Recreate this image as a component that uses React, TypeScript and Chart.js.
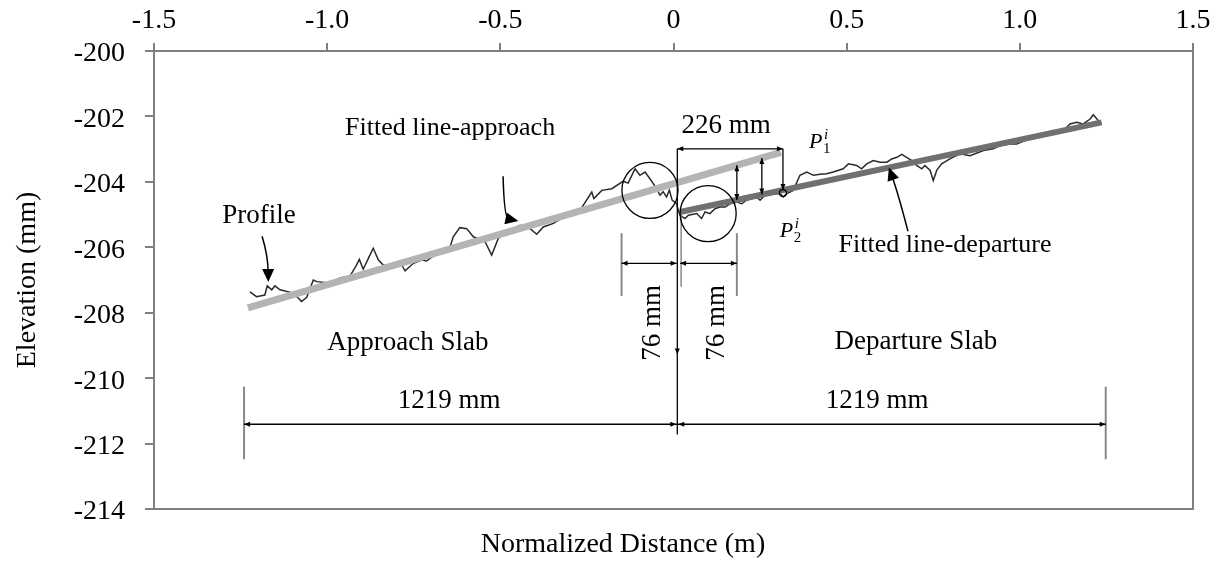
import React, { useEffect, useRef } from 'react';
import { Chart, registerables } from 'chart.js';

Chart.register(...registerables);

const FONT = '"Liberation Serif", "Times New Roman", serif';

// Axis ranges / ticks
const xRange = [-1.5, 1.5];
const xStep = 0.5;
const yRange = [-214, -200];
const yStep = 2;
const xTitle = 'Normalized Distance (m)';
const yTitle = 'Elevation (mm)';

// Measured profile (normalized distance in m, elevation in mm)
const profileX = [
  -1.223, -1.204, -1.180, -1.173, -1.160, -1.151, -1.136, -1.098, -1.074, -1.059,
  -1.040, -1.030, -0.992, -0.963, -0.934, -0.915, -0.907, -0.896, -0.881, -0.867,
  -0.852, -0.838, -0.813, -0.785, -0.775, -0.751, -0.727, -0.713, -0.694, -0.669,
  -0.645, -0.636, -0.617, -0.597, -0.578, -0.544, -0.525, -0.506, -0.482, -0.443,
  -0.414, -0.395, -0.376, -0.347, -0.308, -0.270, -0.236, -0.230, -0.207, -0.178,
  -0.145, -0.131, -0.111, -0.097, -0.082, -0.063, -0.049, -0.039, -0.030, -0.020,
  -0.012, -0.004, 0.009, 0.014,
  0.019, 0.033, 0.043, 0.067, 0.081, 0.091, 0.105, 0.120, 0.134, 0.149,
  0.163, 0.183, 0.197, 0.211, 0.240, 0.250, 0.264, 0.288, 0.308, 0.317,
  0.327, 0.346, 0.365, 0.385, 0.404, 0.423, 0.442, 0.461, 0.490, 0.505,
  0.529, 0.543, 0.558, 0.577, 0.596, 0.616, 0.630, 0.645, 0.659, 0.673,
  0.688, 0.702, 0.717, 0.726, 0.741, 0.750, 0.760, 0.774, 0.798, 0.827,
  0.856, 0.895, 0.923, 0.943, 0.972, 0.991, 1.029, 1.087, 1.126, 1.145,
  1.164, 1.183, 1.203, 1.212, 1.227, 1.236,
];
const profileY = [
  -207.36, -207.51, -207.46, -207.18, -207.30, -207.18, -207.30, -207.40, -207.66, -207.53,
  -207.00, -207.05, -207.09, -206.94, -206.88, -206.54, -206.37, -206.67, -206.34, -206.03,
  -206.39, -206.54, -206.57, -206.54, -206.72, -206.49, -206.39, -206.42, -206.27, -206.14,
  -205.99, -205.68, -205.40, -205.43, -205.68, -205.83, -206.24, -205.73, -205.53, -205.33,
  -205.43, -205.60, -205.38, -205.27, -205.02, -204.87, -204.31, -204.51, -204.26, -204.21,
  -203.98, -204.04, -203.60, -203.80, -203.70, -203.98, -204.21, -204.41, -204.30, -204.46,
  -204.25, -204.56, -204.67, -204.87,
  -205.02, -205.12, -205.02, -204.97, -205.12, -204.92, -204.97, -204.82, -204.77, -204.77,
  -204.67, -204.62, -204.67, -204.56, -204.46, -204.56, -204.41, -204.36, -204.36, -204.46,
  -204.36, -204.26, -203.80, -203.70, -203.80, -203.77, -203.75, -203.70, -203.60, -203.45,
  -203.50, -203.60, -203.45, -203.35, -203.40, -203.40, -203.30, -203.25, -203.16, -203.25,
  -203.35, -203.50, -203.60, -203.50, -203.65, -203.96, -203.65, -203.45, -203.30, -203.14,
  -203.20, -203.04, -202.99, -202.89, -202.84, -202.84, -202.68, -202.53, -202.43, -202.23,
  -202.18, -202.23, -202.08, -201.95, -202.13, -202.23,
];

// Fitted lines (end points)
const approachFitX = [-1.229, 0.31];
const approachFitY = [-207.85, -203.1];
const departureFitX = [0.019, 1.236];
const departureFitY = [-204.92, -202.18];

const toPts = (xs: number[], ys: number[]) => xs.map((x, i) => ({ x, y: ys[i] }));

const lineAt = (xs: number[], ys: number[], x: number) =>
  ys[0] + ((x - xs[0]) * (ys[1] - ys[0])) / (xs[1] - xs[0]);

const annotPlugin = {
  id: 'annot',
  afterDatasetsDraw(chart: any) {
    const ctx: CanvasRenderingContext2D = chart.ctx;
    const xs = chart.scales.x;
    const ys = chart.scales.y;
    const X = (v: number) => xs.getPixelForValue(v);
    const Y = (v: number) => ys.getPixelForValue(v);

    const head = (tx: number, ty: number, fx: number, fy: number, len = 6, half = 2.5) => {
      const a = Math.atan2(ty - fy, tx - fx);
      const bx = tx - len * Math.cos(a);
      const by = ty - len * Math.sin(a);
      ctx.beginPath();
      ctx.moveTo(tx, ty);
      ctx.lineTo(bx - half * Math.sin(a), by + half * Math.cos(a));
      ctx.lineTo(bx + half * Math.sin(a), by - half * Math.cos(a));
      ctx.closePath();
      ctx.fillStyle = '#000';
      ctx.fill();
    };
    const seg = (x1: number, y1: number, x2: number, y2: number, color = '#000', w = 1.3) => {
      ctx.beginPath();
      ctx.moveTo(x1, y1);
      ctx.lineTo(x2, y2);
      ctx.strokeStyle = color;
      ctx.lineWidth = w;
      ctx.stroke();
    };
    const txt = (s: string, x: number, y: number, size = 27, rot = 0) => {
      ctx.save();
      ctx.translate(x, y);
      ctx.rotate(rot);
      ctx.font = `${size}px ${FONT}`;
      ctx.fillStyle = '#000';
      ctx.textAlign = 'center';
      ctx.textBaseline = 'middle';
      ctx.fillText(s, 0, 0);
      ctx.restore();
    };
    const curvedArrow = (sx: number, sy: number, cx: number, cy: number, tx: number, ty: number) => {
      const p0 = [X(sx), Y(sy)], p1 = [X(cx), Y(cy)], p2 = [X(tx), Y(ty)];
      const a = Math.atan2(p2[1] - p1[1], p2[0] - p1[0]);
      const ex = p2[0] - 10 * Math.cos(a), ey = p2[1] - 10 * Math.sin(a);
      ctx.beginPath();
      ctx.moveTo(p0[0], p0[1]);
      ctx.quadraticCurveTo(p1[0], p1[1], ex, ey);
      ctx.strokeStyle = '#000';
      ctx.lineWidth = 1.5;
      ctx.stroke();
      head(p2[0], p2[1], p1[0], p1[1], 13, 6);
    };
    const pLabel = (sub: string, x: number, y: number) => {
      const px = X(x), py = Y(y);
      ctx.save();
      ctx.fillStyle = '#000';
      ctx.textBaseline = 'alphabetic';
      ctx.textAlign = 'left';
      ctx.font = `italic 22px ${FONT}`;
      ctx.fillText('P', px - 10, py + 7);
      ctx.font = `15px ${FONT}`;
      ctx.fillText(sub, px + 4, py + 12);
      ctx.font = `italic 15px ${FONT}`;
      ctx.fillText('i', px + 5, py - 2);
      ctx.restore();
    };

    ctx.save();

    // ---- 1219 mm dimension ----
    const dimY = -211.41, dimTop = -210.26, dimBot = -212.48;
    const dimL = -1.24, dimR = 1.248, joint = 0.011;
    seg(X(dimL), Y(dimTop), X(dimL), Y(dimBot), '#888', 2);
    seg(X(dimR), Y(dimTop), X(dimR), Y(dimBot), '#888', 2);
    seg(X(dimL), Y(dimY), X(dimR), Y(dimY));
    head(X(dimL), Y(dimY), X(dimL) + 10, Y(dimY));
    head(X(joint) - 1, Y(dimY), X(joint) - 11, Y(dimY));
    head(X(joint) + 1, Y(dimY), X(joint) + 11, Y(dimY));
    head(X(dimR), Y(dimY), X(dimR) - 10, Y(dimY));
    txt('1219 mm', X(-0.648), Y(-210.71));
    txt('1219 mm', X(0.588), Y(-210.71));

    // ---- joint line ----
    seg(X(joint), Y(-202.99), X(joint), Y(-211.72));
    head(X(joint), Y(-209.28), X(joint), Y(-209.28) - 8, 6, 2.5);
    seg(X(0.022), Y(-205.02), X(0.022), Y(-207.21), '#888', 1.5);

    // ---- 76 mm dimensions ----
    const d76Y = -206.49, d76Top = -205.57, d76Bot = -207.49;
    const d76L = -0.15, d76R = 0.183;
    seg(X(d76L), Y(d76Top), X(d76L), Y(d76Bot), '#888', 2);
    seg(X(d76R), Y(d76Top), X(d76R), Y(d76Bot), '#888', 2);
    seg(X(d76L), Y(d76Y), X(0.009), Y(d76Y));
    seg(X(0.019), Y(d76Y), X(d76R), Y(d76Y));
    head(X(d76L), Y(d76Y), X(d76L) + 10, Y(d76Y));
    head(X(0.009), Y(d76Y), X(0.009) - 10, Y(d76Y));
    head(X(0.019), Y(d76Y), X(0.019) + 10, Y(d76Y));
    head(X(d76R), Y(d76Y), X(d76R) - 10, Y(d76Y));
    txt('76 mm', X(-0.059), Y(-208.31), 27, -Math.PI / 2);
    txt('76 mm', X(0.125), Y(-208.31), 27, -Math.PI / 2);

    // ---- circles ----
    const rPx = X(0.081) - X(0);
    ctx.beginPath();
    ctx.arc(X(-0.068), Y(-204.26), rPx, 0, Math.PI * 2);
    ctx.strokeStyle = '#000';
    ctx.lineWidth = 1.3;
    ctx.stroke();
    ctx.beginPath();
    ctx.arc(X(0.1), Y(-204.97), rPx, 0, Math.PI * 2);
    ctx.stroke();

    // ---- 226 mm bracket ----
    const brY = -202.99, brR = 0.316;
    seg(X(joint), Y(brY), X(brR), Y(brY));
    head(X(joint), Y(brY), X(joint) + 10, Y(brY));
    head(X(brR), Y(brY), X(brR) - 10, Y(brY));
    txt('226 mm', X(0.152), Y(-202.28));
    const vx = [0.183, 0.255, 0.316];
    vx.forEach((v, i) => {
      const top = i === 2 ? brY : lineAt(approachFitX, approachFitY, v);
      const bot = lineAt(departureFitX, departureFitY, v);
      seg(X(v), Y(top), X(v), Y(bot));
      if (i < 2) head(X(v), Y(top), X(v), Y(top) + 10);
      head(X(v), Y(bot), X(v), Y(bot) - 10);
    });
    ctx.beginPath();
    ctx.arc(X(0.316), Y(lineAt(departureFitX, departureFitY, 0.316)) + 3, 3.5, 0, Math.PI * 2);
    ctx.strokeStyle = '#000';
    ctx.lineWidth = 1.2;
    ctx.stroke();

    pLabel('1', 0.42, -202.74);
    pLabel('2', 0.336, -205.48);

    // ---- labels & arrows ----
    txt('Profile', X(-1.197), Y(-205.05));
    curvedArrow(-1.188, -205.66, -1.171, -206.24, -1.17, -207.06);
    txt('Fitted line-approach', X(-0.645), Y(-202.37), 26);
    curvedArrow(-0.492, -203.83, -0.489, -205.11, -0.448, -205.2);
    txt('Fitted line-departure', X(0.784), Y(-205.93), 26);
    curvedArrow(0.677, -205.51, 0.65, -204.4, 0.622, -203.56);
    txt('Approach Slab', X(-0.767), Y(-208.92));
    txt('Departure Slab', X(0.7), Y(-208.89));

    ctx.restore();

    // ---- x axis title (centred under the whole figure as in the source) ----
    ctx.save();
    ctx.font = `28px ${FONT}`;
    ctx.fillStyle = '#000';
    ctx.textAlign = 'center';
    ctx.textBaseline = 'middle';
    ctx.fillText(xTitle, X(-0.146), chart.scales.x2.bottom - 17);
    ctx.restore();
  },
};

export default function App() {
  const ref = useRef<HTMLCanvasElement>(null);

  useEffect(() => {
    if (!ref.current) return;
    Chart.defaults.font.family = FONT;
    Chart.defaults.color = '#000';
    const axisColor = '#7f7f7f';
    const tickFont = { size: 28, family: FONT };
    const chart = new Chart(ref.current, {
      type: 'line',
      data: {
        datasets: [
          {
            label: 'Fitted line-approach',
            data: toPts(approachFitX, approachFitY),
            borderColor: '#b4b4b4',
            borderWidth: 7,
            pointRadius: 0,
            fill: false,
            xAxisID: 'x',
            yAxisID: 'y',
          },
          {
            label: 'Fitted line-departure',
            data: toPts(departureFitX, departureFitY),
            borderColor: '#707070',
            borderWidth: 6,
            pointRadius: 0,
            fill: false,
            xAxisID: 'x',
            yAxisID: 'y',
          },
          {
            label: 'Profile',
            data: toPts(profileX, profileY),
            borderColor: '#2a2a2a',
            borderWidth: 1.5,
            pointRadius: 0,
            tension: 0,
            fill: false,
            xAxisID: 'x',
            yAxisID: 'y',
          },
        ],
      },
      options: {
        animation: false,
        responsive: false,
        layout: { padding: 0 },
        plugins: { legend: { display: false }, tooltip: { enabled: false } },
        scales: {
          x: {
            type: 'linear',
            position: 'top',
            min: xRange[0],
            max: xRange[1],
            ticks: {
              stepSize: xStep,
              font: tickFont,
              color: '#000',
              padding: 6,
              maxRotation: 0,
              autoSkip: false,
              callback: (v: any) => (Math.abs(Number(v)) < 1e-9 ? '0' : Number(v).toFixed(1)),
            },
            grid: { drawOnChartArea: false, drawTicks: true, tickLength: 8, color: axisColor, lineWidth: 2 },
            border: { display: true, color: axisColor, width: 2 },
            afterFit: (s: any) => { s.height = 51; },
          },
          x2: {
            type: 'linear',
            position: 'bottom',
            min: xRange[0],
            max: xRange[1],
            ticks: { display: false },
            grid: { display: false, drawTicks: false },
            border: { display: true, color: axisColor, width: 2 },
            afterFit: (s: any) => { s.height = 53; },
          },
          y: {
            type: 'linear',
            position: 'left',
            min: yRange[0],
            max: yRange[1],
            ticks: { stepSize: yStep, font: tickFont, color: '#000', padding: 20, labelOffset: 3 },
            grid: { drawOnChartArea: false, drawTicks: true, tickLength: 9, color: axisColor, lineWidth: 2 },
            border: { display: true, color: axisColor, width: 2 },
            title: {
              display: true,
              text: yTitle,
              font: { size: 28, family: FONT },
              color: '#000',
              padding: { top: 11, bottom: 0 },
            },
            afterFit: (s: any) => { s.width = 154; },
          },
          y2: {
            type: 'linear',
            position: 'right',
            min: yRange[0],
            max: yRange[1],
            ticks: { display: false },
            grid: { display: false, drawTicks: false },
            border: { display: true, color: axisColor, width: 2 },
            afterFit: (s: any) => { s.width = 30; },
          },
        },
      } as any,
      plugins: [annotPlugin],
    });
    return () => chart.destroy();
  }, []);

  return (
    <div style={{ position: 'fixed', left: 0, top: 0, width: 1223, height: 562, background: '#fff' }}>
      <canvas ref={ref} width={1223} height={562} style={{ display: 'block' }} />
    </div>
  );
}
